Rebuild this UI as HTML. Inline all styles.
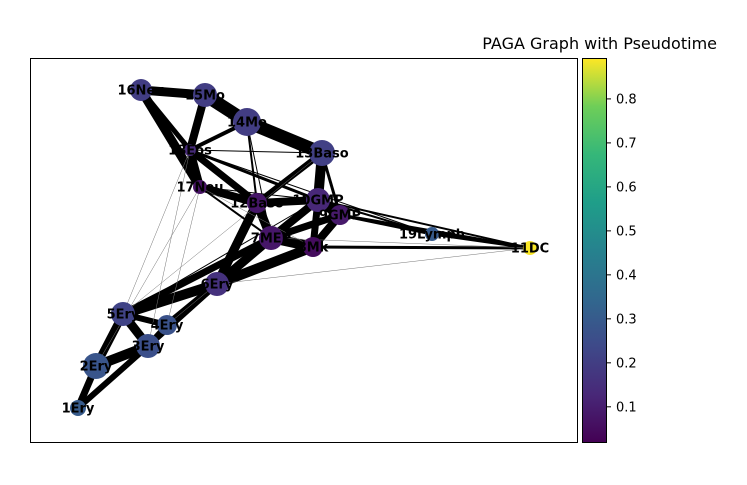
<!DOCTYPE html>
<html><head><meta charset="utf-8"><style>
body{margin:0;background:#fff;}
svg text{font-family:"DejaVu Sans","Liberation Sans",sans-serif;}
</style></head><body>
<svg id="chart" width="747" height="480" xmlns="http://www.w3.org/2000/svg">
<defs><linearGradient id="vir" x1="0" y1="1" x2="0" y2="0">
<stop offset="0" stop-color="#440154"/><stop offset="0.125" stop-color="#482878"/><stop offset="0.25" stop-color="#3e4989"/><stop offset="0.375" stop-color="#31688e"/><stop offset="0.5" stop-color="#26828e"/><stop offset="0.625" stop-color="#1f9e89"/><stop offset="0.75" stop-color="#35b779"/><stop offset="0.875" stop-color="#6ece58"/><stop offset="1" stop-color="#fde725"/></linearGradient></defs>
<text x="717" y="49" font-size="16" text-anchor="end" fill="#000">PAGA Graph with Pseudotime</text>
<g id="edges"></g>
<g id="nodes"></g>
<rect x="30.5" y="58.5" width="547" height="384" fill="none" stroke="#000" stroke-width="1"/>
<rect x="582.5" y="58.5" width="24" height="384" fill="url(#vir)" stroke="#000"/>
<g id="cbticks"></g>
</svg>
<script>
const names=["1Ery","2Ery","3Ery","4Ery","5Ery","6Ery","7MEP","8Mk","9GMP","10GMP","11DC","12Baso","13Baso","14Mo","15Mo","16Neu","17Neu","18Eos","19Lymph"];
const posX=[78,96,148,167,123,217,271,313,340,318,530,257,322,247,205,141,200,190,432];
const posY=[408,366,346,325,314,284,238,247,215,200,248,203,153,122,95,90,187,150,234];
const sizes=[8,13,12,10,12,12,12,10,10,12,7,10,13,14,12,11,7,6,7];
const pseudotime=[0.30,0.28,0.26,0.27,0.22,0.16,0.08,0.05,0.09,0.13,0.89,0.08,0.21,0.20,0.20,0.20,0.07,0.14,0.30];
const edgeFrom=[0,0,1,1,2,3,2,4,3,2,5,5,5,4,6,6,6,6,7,7,8,9, 9, 11,11,12,13,13,13,14,14,15,15,16,17,17,18,18,18,7, 8, 9, 6, 5, 4,3,1, 13,17,16,12,17,4, 2, 3, 4, 5,16,16];
const edgeTo  =[1,2,2,4,4,4,3,5,5,5,6,7,11,6,7,11,9,8,8,9,9,11,12,12,16,13,14,11,17,15,17,16,17,17,11,9, 8, 10,9, 10,10,10,10,10,9,9,16,6, 12,9, 8, 18,17,17,16,12,9,6, 7];
const edgeW   =[7,6,10,8,9,6,6,10,7,6,9,10,9,7,10,9,8,7,8,7,10,8,10,6,8,13,13,2,4,9,8,9,5,8,7,3,3,3,2,3,3,2,0.5,0.5,1,0.5,0.5,1,1,1,3,1,0.5,0.5,0.5,0.5,2,2,0.5];
const cmap=[[68,1,84],[72,40,120],[62,73,137],[49,104,142],[38,130,142],[31,158,137],[53,183,121],[110,206,88],[253,231,37]];
const vmin=0.02,vmax=0.893,cbTop=58,cbBot=442;
function color(v){let t=Math.max(0,Math.min(1,(v-vmin)/(vmax-vmin)))*8;let i=Math.min(7,Math.floor(t)),f=t-i;const a=cmap[i],b=cmap[i+1];return `rgb(${a.map((c,k)=>Math.round(c+(b[k]-c)*f)).join(',')})`;}
function cy(v){return cbBot-(v-vmin)/(vmax-vmin)*(cbBot-cbTop);}
const NS="http://www.w3.org/2000/svg";
const eg=document.getElementById('edges'),ng=document.getElementById('nodes'),tg=document.getElementById('cbticks');
const nE=Math.min(edgeFrom.length,edgeTo.length,edgeW.length);
for(let i=0;i<nE;i++){const a=edgeFrom[i],b=edgeTo[i];const l=document.createElementNS(NS,'line');
l.setAttribute('x1',posX[a]);l.setAttribute('y1',posY[a]);l.setAttribute('x2',posX[b]);l.setAttribute('y2',posY[b]);
l.setAttribute('stroke',edgeW[i]<1?'#777':'#000');l.setAttribute('stroke-width',edgeW[i]);


eg.appendChild(l);}
for(let i=0;i<names.length;i++){const c=document.createElementNS(NS,'circle');
c.setAttribute('cx',posX[i]);c.setAttribute('cy',posY[i]);c.setAttribute('r',sizes[i]);c.setAttribute('fill',color(pseudotime[i]));


ng.appendChild(c);}
for(let i=0;i<names.length;i++){const t=document.createElementNS(NS,'text');
t.setAttribute('x',posX[i]);t.setAttribute('y',posY[i]+4.5);t.setAttribute('text-anchor','middle');t.setAttribute('font-size','13');t.setAttribute('font-weight','bold');t.textContent=names[i];


ng.appendChild(t);}
const ticks=[0.1,0.2,0.3,0.4,0.5,0.6,0.7,0.8];
ticks.forEach(v=>{const y=cy(v);const l=document.createElementNS(NS,'line');
l.setAttribute('x1',607);l.setAttribute('x2',611);l.setAttribute('y1',y);l.setAttribute('y2',y);l.setAttribute('stroke','#000');


tg.appendChild(l);
const t=document.createElementNS(NS,'text');t.setAttribute('x',616);t.setAttribute('y',y+4.5);t.setAttribute('font-size','13');t.textContent=v.toFixed(1);


tg.appendChild(t);});
</script>
</body></html>
